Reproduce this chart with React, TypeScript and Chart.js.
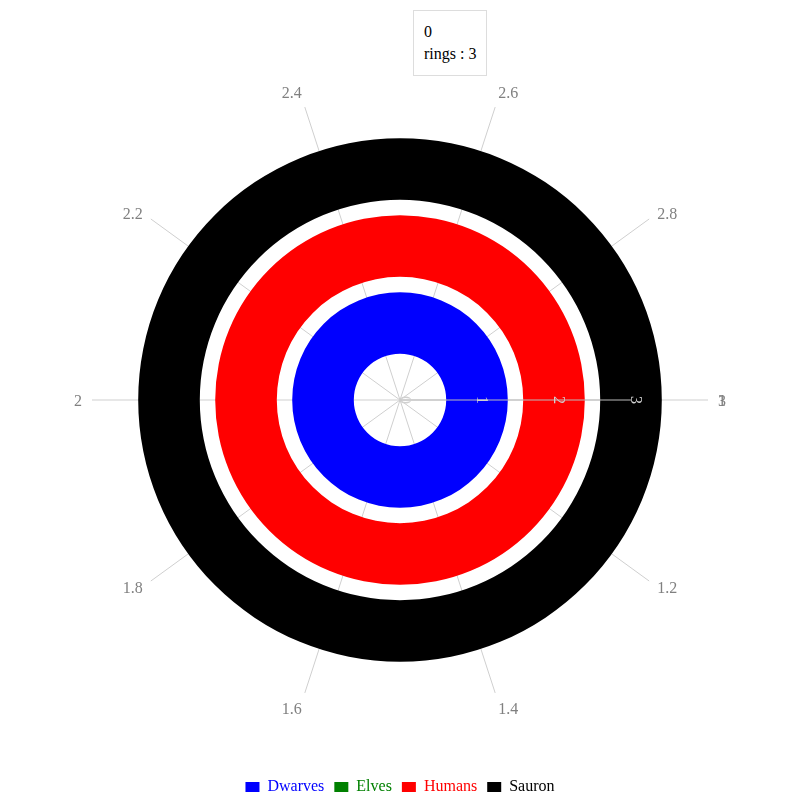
import React, { useEffect, useRef } from 'react';
import { Chart, registerables, ArcElement } from 'chart.js';

Chart.register(...registerables);

// ---- data ----
const angleLabels = ['1', '1.2', '1.4', '1.6', '1.8', '2', '2.2', '2.4', '2.6', '2.8'];
const angleEndLabel = '3';
const angleMin = 1;
const angleMax = 3;
const seriesNames = ['Dwarves', 'Elves', 'Humans', 'Sauron'];
const seriesColors = ['#0000ff', '#008000', '#ff0000', '#000000'];
const ringRadius: (number | null)[] = [1, null, 2, 3];
const ringFrom: (number | null)[] = [1, null, 1, 1];
const ringTo: (number | null)[] = [3, null, 3, 3];
const radialTicks = [0, 1, 2, 3];
const radialMax = 4;
const tooltipTitle = '0';
const tooltipSeries = 'rings';
const tooltipValue = 3;

const BAND = 0.8;
const FONT = "'Liberation Serif', 'Times New Roman', serif";
const LABEL_GAP = 10;

const ringsPlugin = {
  id: 'rings',
  beforeDatasetsDraw(chart: any) {
    const scale = chart.scales.r;
    const ctx = chart.ctx;
    const base = scale.getIndexAngle(0) - Math.PI / 2;
    chart.data.datasets.forEach((ds: any, i: number) => {
      if (!chart.isDatasetVisible(i)) return;
      const rv = ringRadius[i];
      const from = ringFrom[i];
      const to = ringTo[i];
      if (rv == null || from == null || to == null) return;
      const inner = scale.getDistanceFromCenterForValue(rv - BAND / 2);
      const outer = scale.getDistanceFromCenterForValue(rv + BAND / 2);
      const startAngle = base + ((from - angleMin) / (angleMax - angleMin)) * Math.PI * 2;
      const endAngle = base + ((to - angleMin) / (angleMax - angleMin)) * Math.PI * 2;
      const arc: any = new ArcElement({
        x: scale.xCenter,
        y: scale.yCenter,
        startAngle,
        endAngle,
        circumference: endAngle - startAngle,
        innerRadius: inner,
        outerRadius: outer,
        options: {
          backgroundColor: seriesColors[i],
          borderColor: seriesColors[i],
          borderWidth: 0,
          borderAlign: 'center',
          borderRadius: 0,
          borderJoinStyle: 'round',
          borderDash: [],
          borderDashOffset: 0,
          offset: 0,
          spacing: 0,
          circular: true,
        },
      } as any);
      arc.draw(ctx);
    });
    // radial axis line from first to last tick
    const p0 = scale.getPointPositionForValue(0, radialTicks[0]);
    const p1 = scale.getPointPositionForValue(0, radialTicks[radialTicks.length - 1]);
    ctx.save();
    ctx.strokeStyle = '#bbbbbb';
    ctx.lineWidth = 1;
    ctx.beginPath();
    ctx.moveTo(p0.x, p0.y);
    ctx.lineTo(p1.x, p1.y);
    ctx.stroke();
    ctx.restore();
  },
  afterDraw(chart: any) {
    const scale = chart.scales.r;
    const ctx = chart.ctx;
    // radial tick labels, rotated along the axis
    ctx.save();
    ctx.translate(scale.xCenter, scale.yCenter);
    ctx.rotate(scale.getIndexAngle(0));
    ctx.font = `16px ${FONT}`;
    ctx.fillStyle = '#d0d0d0';
    ctx.textAlign = 'center';
    ctx.textBaseline = 'alphabetic';
    scale.ticks.forEach((t: any) => {
      const off = scale.getDistanceFromCenterForValue(t.value);
      ctx.fillText(t.label, 0, -off);
    });
    ctx.restore();

    // angular axis labels
    const items: { i: number; text: string }[] = angleLabels.map((t, i) => ({ i, text: t }));
    items.push({ i: 0, text: angleEndLabel });
    ctx.save();
    ctx.font = `16px ${FONT}`;
    ctx.fillStyle = '#808080';
    ctx.textBaseline = 'middle';
    items.forEach(({ i, text }) => {
      const a = scale.getIndexAngle(i) - Math.PI / 2;
      const c = Math.cos(a);
      const s = Math.sin(a);
      const p = scale.getPointPosition(i, scale.drawingArea + LABEL_GAP);
      ctx.textAlign = c > 1e-3 ? 'left' : c < -1e-3 ? 'right' : 'center';
      const shift = Math.abs(s) > Math.abs(c) ? s * 6 : 0;
      ctx.fillText(text, p.x, p.y + shift + 1.5);
    });
    ctx.restore();
  },
};

export default function App() {
  const ref = useRef<HTMLCanvasElement>(null);
  useEffect(() => {
    document.body.style.margin = '0';
    const chart = new Chart(ref.current as HTMLCanvasElement, {
      type: 'radar',
      data: {
        labels: angleLabels,
        datasets: seriesNames.map((name, i) => ({
          label: name,
          data: [],
          backgroundColor: seriesColors[i],
          borderColor: seriesColors[i],
          borderWidth: 0,
        })),
      },
      options: {
        animation: false,
        responsive: true,
        maintainAspectRatio: false,
        layout: { padding: { top: 82, left: 69, right: 69, bottom: -5 } },
        scales: {
          r: {
            type: 'radialLinear',
            min: -1e-9,
            max: radialMax,
            startAngle: 90,
            afterBuildTicks: (s: any) => {
              s.ticks = radialTicks.map((v) => ({ value: v }));
            },
            grid: { display: false },
            angleLines: { display: true, color: '#cfcfcf', lineWidth: 1 },
            pointLabels: { display: false },
            ticks: {
              color: 'transparent',
              showLabelBackdrop: false,
              font: { family: FONT, size: 16 },
              callback: (v: any) => String(Math.round(v)),
            },
          },
        } as any,
        plugins: {
          tooltip: { enabled: false },
          legend: {
            position: 'bottom',
            title: { display: true, text: ' ', padding: { top: 31, bottom: 0 }, font: { family: FONT, size: 16 } },
            labels: {
              boxWidth: 14,
              boxHeight: 10,
              padding: 10,
              font: { family: FONT, size: 16 },
              generateLabels: (c: any) => {
                const items = (Chart.defaults.plugins.legend.labels as any).generateLabels(c);
                return items.map((it: any, i: number) => ({
                  ...it,
                  fillStyle: seriesColors[i],
                  strokeStyle: seriesColors[i],
                  lineWidth: 0,
                  fontColor: seriesColors[i],
                }));
              },
            },
          },
        },
      } as any,
      plugins: [ringsPlugin],
    });
    return () => chart.destroy();
  }, []);

  return (
    <div style={{ position: 'relative', width: 800, height: 800 }}>
      <canvas ref={ref} />
      <div
        style={{
          position: 'absolute',
          left: 413,
          top: 10,
          background: '#ffffff',
          border: '1px solid #dddddd',
          padding: '10px 10px',
          fontFamily: FONT,
          fontSize: 16,
          lineHeight: '22px',
          color: '#000000',
          whiteSpace: 'nowrap',
        }}
      >
        <div>{tooltipTitle}</div>
        <div>{`${tooltipSeries} : ${tooltipValue}`}</div>
      </div>
    </div>
  );
}
